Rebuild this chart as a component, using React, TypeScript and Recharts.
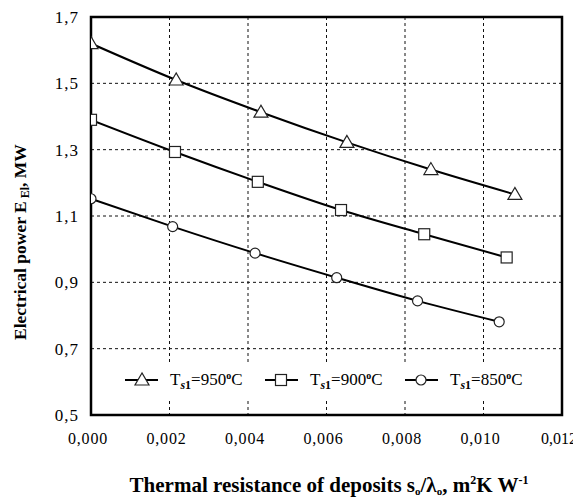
import React from 'react'
import { CartesianGrid, Line, LineChart, ReferenceArea, XAxis, YAxis } from 'recharts'

// values
const seriesNames = ['950', '900', '850']
const resistance950 = [0, 0.00217, 0.00433, 0.00652, 0.00866, 0.0108]
const power950 = [1.62, 1.51, 1.413, 1.322, 1.24, 1.165]
const resistance900 = [0, 0.00214, 0.00425, 0.00637, 0.00849, 0.01059]
const power900 = [1.39, 1.293, 1.203, 1.118, 1.045, 0.975]
const resistance850 = [0, 0.00208, 0.00418, 0.00626, 0.00832, 0.0104]
const power850 = [1.152, 1.068, 0.988, 0.914, 0.844, 0.781]
const xTicks = [0, 0.002, 0.004, 0.006, 0.008, 0.01, 0.012]
const yTicks = [0.5, 0.7, 0.9, 1.1, 1.3, 1.5, 1.7]

const FONT = "'Liberation Serif', 'Times New Roman', serif"
const INK = '#000'
const CHART_W = 573

function toRows(xs: number[], ys: number[]) {
  return xs.map((x, i) => ({ x, y: ys[i] }))
}

const data950 = toRows(resistance950, power950)
const data900 = toRows(resistance900, power900)
const data850 = toRows(resistance850, power850)

interface DotProps {
  cx?: number
  cy?: number
}

function TriangleDot({ cx = 0, cy = 0 }: DotProps) {
  return (
    <polygon
      points={`${cx},${cy - 7} ${cx - 7},${cy + 5} ${cx + 7},${cy + 5}`}
      fill="#fff"
      stroke="#222"
      strokeWidth={1.2}
    />
  )
}

function SquareDot({ cx = 0, cy = 0 }: DotProps) {
  return <rect x={cx - 5.5} y={cy - 5.5} width={11} height={11} fill="#fff" stroke="#222" strokeWidth={1.2} />
}

function CircleDot({ cx = 0, cy = 0 }: DotProps) {
  return <circle cx={cx} cy={cy} r={5} fill="#fff" stroke="#222" strokeWidth={1.2} />
}

const comma = (v: number, digits: number) => v.toFixed(digits).replace('.', ',')

interface TickProps {
  x?: number
  y?: number
  payload?: { value: number }
}

function XTick({ x = 0, y = 0, payload }: TickProps) {
  // the last label touches the right edge of the picture in the original
  const atEdge = (payload?.value ?? 0) >= 0.012
  return (
    <text
      x={atEdge ? x + 15 : x - 3}
      y={y + 27}
      textAnchor={atEdge ? 'end' : 'middle'}
      style={{ fontFamily: FONT, fontSize: 16, letterSpacing: atEdge ? 0 : 0.8 }}
      fill={INK}
    >
      {comma(payload?.value ?? 0, 3)}
    </text>
  )
}

function YTick({ x = 0, y = 0, payload }: TickProps) {
  return (
    <text x={x - 10} y={y + 6} textAnchor="end" style={{ fontFamily: FONT, fontSize: 17, letterSpacing: 1 }} fill={INK}>
      {comma(payload?.value ?? 0, 1)}
    </text>
  )
}

function TempLabel({ x, y, t }: { x: number; y: number; t: string }) {
  return (
    <text x={x} y={y} style={{ fontFamily: FONT, fontSize: 17 }} fill={INK}>
      T
      <tspan style={{ fontSize: 12, fontWeight: 'bold', fontStyle: 'italic' }} dy={4}>
        s
      </tspan>
      <tspan style={{ fontSize: 12, fontWeight: 'bold' }}>1</tspan>
      <tspan dy={-4}>={t}</tspan>
      <tspan style={{ fontSize: 10, fontWeight: 'bold' }} dy={-6}>
        o
      </tspan>
      <tspan dy={6}>C</tspan>
    </text>
  )
}

// legend sits inside the plot on a white box, like the original
function ChartLegend() {
  const cy = 18
  const items = [
    { x: 17, dot: <TriangleDot cx={34} cy={cy} /> },
    { x: 157, dot: <SquareDot cx={173} cy={cy} /> },
    { x: 297, dot: <CircleDot cx={313} cy={cy} /> }
  ]
  return (
    <svg
      width={440}
      height={36}
      style={{ position: 'absolute', left: 100, top: 354, display: 'block' }}
    >
      <rect x={0} y={0} width={440} height={36} fill="#fff" />
      {items.map((item, i) => (
        <g key={seriesNames[i]}>
          <line x1={item.x} x2={item.x + 33} y1={cy} y2={cy} stroke={INK} strokeWidth={2} />
          {item.dot}
          <TempLabel x={item.x + 45} y={cy + 5} t={seriesNames[i]} />
        </g>
      ))}
    </svg>
  )
}

function XTitle() {
  return (
    <text x={321} y={484} textAnchor="middle" style={{ fontFamily: FONT, fontSize: 21, fontWeight: 'bold' }} fill={INK}>
      Thermal resistance of deposits s
      <tspan style={{ fontSize: 11 }} dy={3}>o</tspan>
      <tspan dy={-3}>/λ</tspan>
      <tspan style={{ fontSize: 11 }} dy={3}>o</tspan>
      <tspan dy={-3}>, m</tspan>
      <tspan style={{ fontSize: 12 }} dy={-8}>2</tspan>
      <tspan dy={8}>K W</tspan>
      <tspan style={{ fontSize: 12 }} dy={-8}>-1</tspan>
    </text>
  )
}

function YTitle() {
  return (
    <text
      x={0}
      y={0}
      transform="translate(18 332) rotate(-90)"
      textAnchor="start"
      style={{ fontFamily: FONT, fontSize: 17.5, fontWeight: 'bold' }}
      fill={INK}
    >
      Electrical power E
      <tspan style={{ fontSize: 12 }} dy={3}> El</tspan>
      <tspan dy={-3}>, MW</tspan>
    </text>
  )
}

export default function App() {
  return (
    <div style={{ position: 'relative', width: CHART_W, height: 490, background: '#fff' }}>
      <style>{'.recharts-surface { overflow: visible; }'}</style>
      <LineChart width={CHART_W} height={490} margin={{ top: 9, right: 19, left: 0, bottom: 0 }}>
        <CartesianGrid stroke="#111" strokeDasharray="3 3" strokeWidth={1} />
        <XAxis
          type="number"
          dataKey="x"
          domain={[0, 0.012]}
          ticks={xTicks}
          tick={<XTick />}
          tickSize={0}
          tickLine={false}
          axisLine={false}
          height={83}
          allowDataOverflow
          label={<XTitle />}
        />
        <YAxis
          type="number"
          dataKey="y"
          domain={[0.5, 1.7]}
          ticks={yTicks}
          tick={<YTick />}
          tickSize={0}
          tickLine={false}
          axisLine={false}
          width={83}
          allowDataOverflow
          label={<YTitle />}
        />
        <ReferenceArea x1={0} x2={0.012} y1={0.5} y2={1.7} fill="none" stroke={INK} strokeWidth={2.5} />
        <Line
          data={data950}
          dataKey="y"
          name="950"
          type="monotone"
          stroke={INK}
          strokeWidth={2}
          dot={<TriangleDot />}
          activeDot={false}
          isAnimationActive={false}
        />
        <Line
          data={data900}
          dataKey="y"
          name="900"
          type="monotone"
          stroke={INK}
          strokeWidth={2}
          dot={<SquareDot />}
          activeDot={false}
          isAnimationActive={false}
        />
        <Line
          data={data850}
          dataKey="y"
          name="850"
          type="monotone"
          stroke={INK}
          strokeWidth={2}
          dot={<CircleDot />}
          activeDot={false}
          isAnimationActive={false}
        />
      </LineChart>
      <ChartLegend />
    </div>
  )
}
